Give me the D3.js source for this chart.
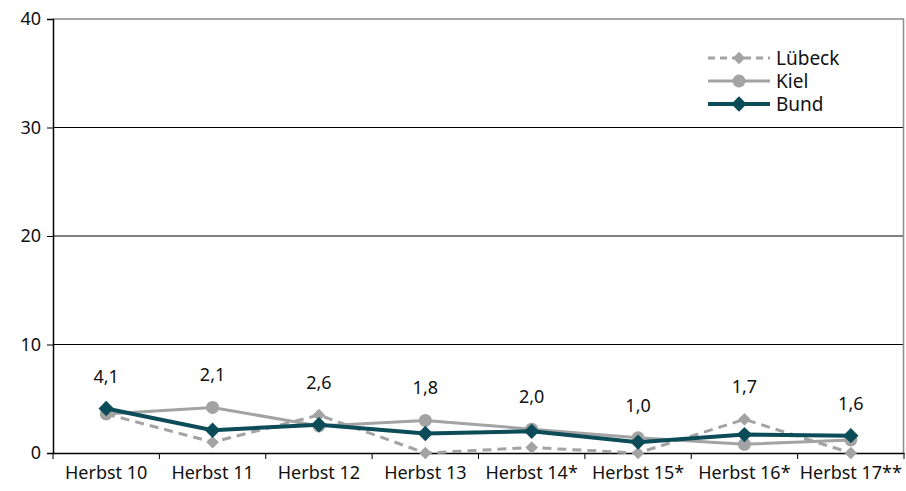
<!DOCTYPE html>
<html>
<head>
<meta charset="utf-8">
<script src="https://cdn.jsdelivr.net/npm/d3@7"></script>
<style>
  body { margin: 0; background: #fff; }
  svg text { font-family: "Noto Sans", "Open Sans", sans-serif; fill: #111; }
</style>
</head>
<body>
<svg id="chart"></svg>
<script>
const width = 906, height = 491;
const margin = {top: 19, right: 2, bottom: 38, left: 53};

// data
const categories = ["Herbst 10", "Herbst 11", "Herbst 12", "Herbst 13", "Herbst 14*", "Herbst 15*", "Herbst 16*", "Herbst 17**"];
const luebeck = [3.6, 1.0, 3.5, 0.0, 0.5, 0.0, 3.1, 0.0];
const kiel = [3.6, 4.2, 2.5, 3.0, 2.2, 1.4, 0.8, 1.2];
const bund = [4.1, 2.1, 2.6, 1.8, 2.0, 1.0, 1.7, 1.6];
const bundLabels = ["4,1", "2,1", "2,6", "1,8", "2,0", "1,0", "1,7", "1,6"];
const yTicks = [0, 10, 20, 30, 40];

const svg = d3.select("#chart").attr("width", width).attr("height", height);

const x = d3.scaleBand()
    .domain(categories)
    .range([margin.left, width - margin.right]);

const y = d3.scaleLinear()
    .domain([0, 40])
    .range([height - margin.bottom, margin.top]);

// grid lines
svg.append("g")
    .selectAll("line")
    .data(yTicks.filter(d => d > 0 && d < 40))
    .enter().append("line")
    .attr("x1", margin.left).attr("x2", width - margin.right)
    .attr("y1", d => y(d)).attr("y2", d => y(d))
    .attr("stroke", "#000").attr("stroke-width", 1);

// top + right border (gray)
svg.append("path")
    .attr("d", `M${margin.left},${y(40)}H${width - margin.right - 0.5}V${y(0)}`)
    .attr("fill", "none")
    .attr("stroke", "#8c8c8c")
    .attr("stroke-width", 1.5);

// y axis
const yAxis = svg.append("g")
    .attr("transform", `translate(${margin.left},0)`)
    .call(d3.axisLeft(y).tickValues(yTicks).tickSize(6).tickPadding(6));
yAxis.selectAll("text").attr("font-size", "18px");

// x axis, ticks at the band edges
const xAxis = svg.append("g")
    .attr("transform", `translate(0,${y(0)})`)
    .call(d3.axisBottom(x).tickSize(0).tickPadding(13));
xAxis.selectAll("text").attr("font-size", "18px");
xAxis.selectAll(".edge")
    .data(categories.concat(["end"]))
    .enter().append("line")
    .attr("class", "edge")
    .attr("x1", (d, i) => margin.left + i * x.step())
    .attr("x2", (d, i) => margin.left + i * x.step())
    .attr("y1", 0).attr("y2", 6)
    .attr("stroke", "#000");
svg.selectAll(".domain").attr("stroke", "#000").attr("stroke-width", 1.5);

const cx = i => x(categories[i]) + x.bandwidth() / 2;
const line = d3.line().x((d, i) => cx(i)).y(d => y(d));
const diamond = d3.symbol().type(d3.symbolDiamond2);
const grey = "#a3a3a3", teal = "#0b4c58";

const series = [
    {name: "Lübeck", values: luebeck, color: grey, width: 3, dash: "9,6", marker: "diamond", size: 100},
    {name: "Kiel", values: kiel, color: grey, width: 3, dash: null, marker: "circle", size: 6.5},
    {name: "Bund", values: bund, color: teal, width: 4, dash: null, marker: "diamond", size: 150}
];

function drawMarker(g, s, px, py) {
    if (s.marker === "circle") {
        g.append("circle").attr("cx", px).attr("cy", py).attr("r", s.size).attr("fill", s.color);
    } else {
        g.append("path").attr("d", diamond.size(s.size)())
            .attr("transform", `translate(${px},${py})`).attr("fill", s.color);
    }
}

series.forEach(s => {
    const g = svg.append("g");
    g.append("path")
        .datum(s.values)
        .attr("d", line)
        .attr("fill", "none")
        .attr("stroke", s.color)
        .attr("stroke-width", s.width)
        .attr("stroke-dasharray", s.dash);
    s.values.forEach((v, i) => drawMarker(g, s, cx(i), y(v)));
});

// value labels for Bund, placed above the highest point in each column
svg.append("g")
    .selectAll("text")
    .data(bundLabels)
    .enter().append("text")
    .attr("x", (d, i) => cx(i))
    .attr("y", (d, i) => y(Math.max(luebeck[i], kiel[i], bund[i])) - 26)
    .attr("text-anchor", "middle")
    .attr("font-size", "18px")
    .text(d => d);

// legend
const legend = svg.append("g").attr("transform", "translate(708,58)");
series.forEach((s, i) => {
    const row = legend.append("g").attr("transform", `translate(0,${i * 23})`);
    row.append("line")
        .attr("x1", 0).attr("x2", 62).attr("y1", 0).attr("y2", 0)
        .attr("stroke", s.color)
        .attr("stroke-width", s.width)
        .attr("stroke-dasharray", s.dash ? "7,5" : null);
    drawMarker(row, s, 31, 0);
    row.append("text")
        .attr("x", 68).attr("y", 0).attr("dy", "0.35em")
        .attr("font-size", "19px")
        .text(s.name);
});
</script>
</body>
</html>
